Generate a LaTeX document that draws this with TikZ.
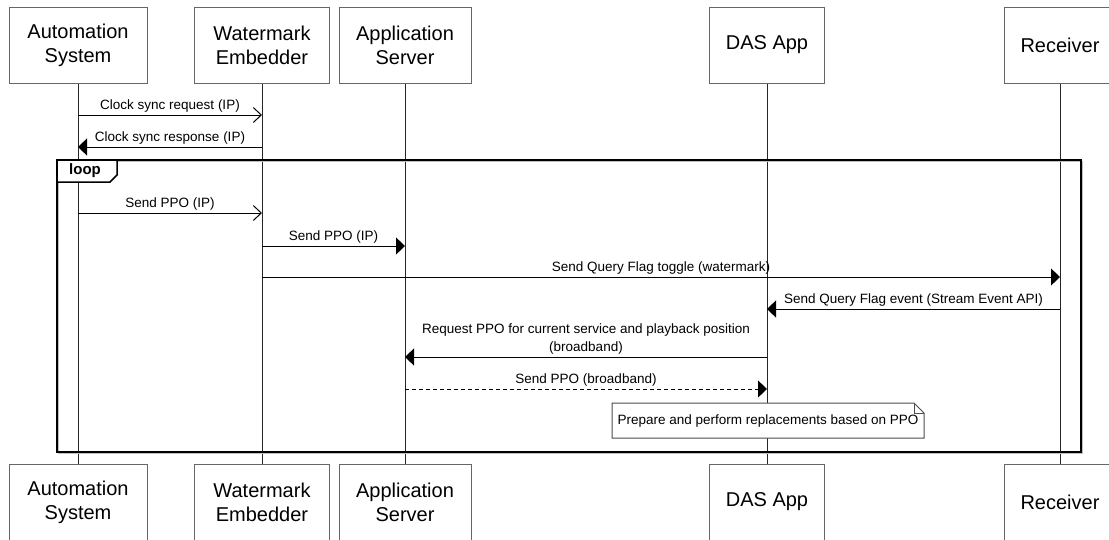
\documentclass[tikz,border=0pt]{standalone}
\usepackage{fontspec}
\setmainfont{Liberation Sans}
\usetikzlibrary{arrows.meta}

\tikzset{
    actor/.style={draw=black!60, line width=1pt, fill=white, minimum height=76pt,
        inner sep=0pt, align=center, font=\fontsize{20}{24}\selectfont},
    life/.style={draw=black!85, line width=1pt},
    sync/.style={line width=1pt, -{Triangle[length=9pt,width=17pt]}},
    async/.style={line width=1pt, -{Straight Barb[length=8pt,width=15pt,line width=1pt]}},
    reply/.style={sync, dash pattern=on 4pt off 3pt},
    lbl/.style={above, inner sep=2pt, align=center, font=\fontsize{13.5}{18}\selectfont},
}

\begin{document}
\begin{tikzpicture}[x=1pt, y=-1pt]
        \useasboundingbox (0,0) rectangle (1109,539);

        % participants, top and bottom
        \node[actor, minimum width=138pt] (as) at (78,45) {Automation\\System};
        \node[actor, minimum width=135pt] (wm) at (262,45) {Watermark\\Embedder};
        \node[actor, minimum width=132pt] (ap) at (405,45) {Application\\Server};
        \node[actor, minimum width=115pt] (da) at (767,45) {DAS App};
        \node[actor, minimum width=112pt] (rc) at (1060,45) {Receiver};

        \node[actor, minimum width=138pt] (asb) at (78,502) {Automation\\System};
        \node[actor, minimum width=135pt] (wmb) at (262,502) {Watermark\\Embedder};
        \node[actor, minimum width=132pt] (apb) at (405,502) {Application\\Server};
        \node[actor, minimum width=115pt] (dab) at (767,502) {DAS App};
        \node[actor, minimum width=112pt] (rcb) at (1060,502) {Receiver};

        \foreach \p in {as, wm, ap, da, rc}
            \draw[life] (\p.south) -- (\p b.north);

        % message rows
        \coordinate (m1) at (0,115);
        \coordinate (m2) at (0,147);
        \coordinate (m3) at (0,213);
        \coordinate (m4) at (0,246);
        \coordinate (m5) at (0,277);
        \coordinate (m6) at (0,309);
        \coordinate (m7) at (0,357);
        \coordinate (m8) at (0,389);

        \draw[async] (as.south |- m1) -- (wm.south |- m1)
            node[lbl, midway] {Clock sync request (IP)};
        \draw[sync] (wm.south |- m2) -- (as.south |- m2)
            node[lbl, midway] {Clock sync response (IP)};

        % loop frame
        \draw[black!25, line width=1.5pt] (58.5,161.5) rectangle (1082.5,453.5);
        \draw[line width=1.5pt] (57,160) rectangle (1081,452);
        \draw[line width=1.5pt, fill=white] (57,160) -- (117,160) -- (117,175)
            -- (110,182) -- (57,182) -- cycle;
        \node[font=\fontsize{15}{18}\selectfont\bfseries] (looptag) at (85,171) {loop};

        \draw[async] (as.south |- m3) -- (wm.south |- m3)
            node[lbl, midway] {Send PPO (IP)};
        \draw[sync] (wm.south |- m4) -- (ap.south |- m4)
            node[lbl, midway] {Send PPO (IP)};
        \draw[sync] (wm.south |- m5) -- (rc.south |- m5)
            node[lbl, midway] {Send Query Flag toggle (watermark)};
        \draw[sync] (rc.south |- m6) -- (da.south |- m6)
            node[lbl, midway] {Send Query Flag event (Stream Event API)};
        \draw[sync] (da.south |- m7) -- (ap.south |- m7)
            node[lbl, midway] {Request PPO for current service and playback position\\(broadband)};
        \draw[reply] (ap.south |- m8) -- (da.south |- m8)
            node[lbl, midway] {Send PPO (broadband)};

        % note
        \draw[black!70, line width=1pt, fill=white] (612,403) -- (914,403) -- (924,413)
            -- (924,438) -- (612,438) -- cycle;
        \draw[black!70, line width=1pt] (914,403) -- (914,413) -- (924,413);
        \node[font=\fontsize{13.5}{16}\selectfont] (note) at (768,421)
            {Prepare and perform replacements based on PPO};
    \end{tikzpicture}
\end{document}
